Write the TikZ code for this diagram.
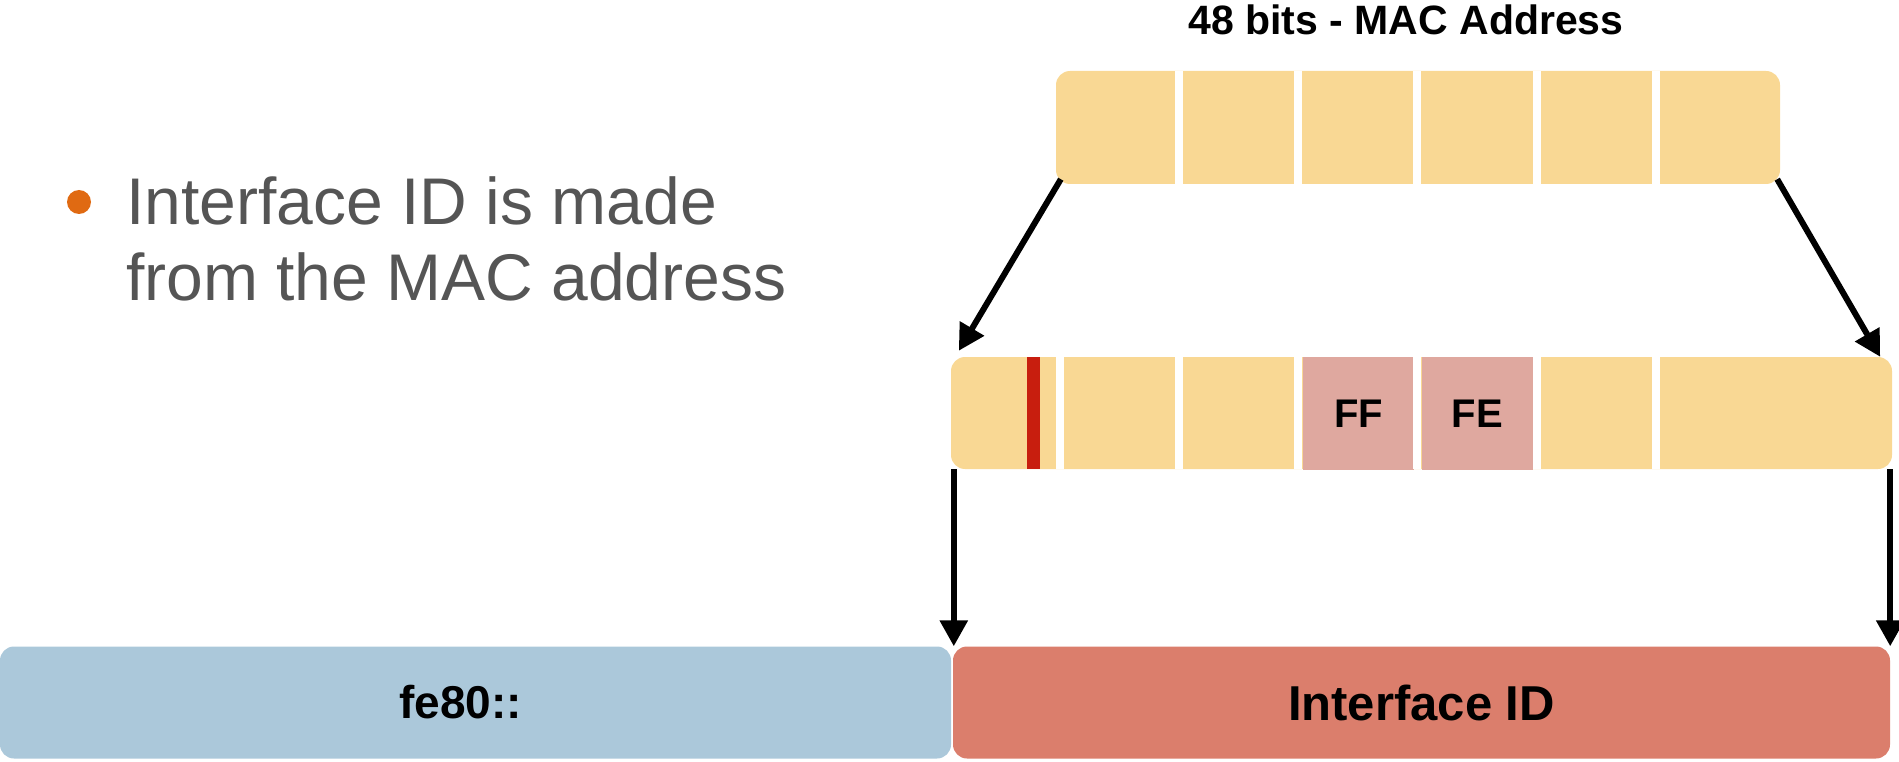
\documentclass[tikz,border=0pt]{standalone}
\usepackage{fontspec}
\setmainfont{Liberation Sans}
\usetikzlibrary{calc}
\usetikzlibrary{arrows.meta}
\definecolor{macyellow}{RGB}{249,216,148}
\definecolor{ffpink}{RGB}{223,168,159}
\definecolor{stripered}{RGB}{200,30,14}
\definecolor{prefixblue}{RGB}{171,200,218}
\definecolor{iidred}{RGB}{219,126,108}
\definecolor{bulletorange}{RGB}{224,106,18}
\definecolor{textgray}{RGB}{85,85,85}

\begin{document}
\begin{tikzpicture}[x=1pt,y=-1pt,
  cell/.style={fill=macyellow,rounded corners=14pt,inner sep=0pt},
  byte/.style={fill=ffpink,inner sep=0pt,minimum width=111pt,minimum height=113pt,font=\fontsize{40}{40}\selectfont\bfseries},
  box/.style={rounded corners=14pt,inner sep=0pt,minimum height=112pt,font=\fontsize{49}{49}\selectfont\bfseries},
  bullet/.style={anchor=base west,inner sep=0pt,text=textgray,font=\fontsize{66}{75}\selectfont},
  conn/.style={line width=6pt,-{Triangle[length=26pt,width=27pt]}}]
  \useasboundingbox (0,0) rectangle (1899,762);
  \node[circle,fill=bulletorange,minimum size=24pt,inner sep=0pt] (dot) at (79,202) {};
  \node[bullet] (line1) at (126,225) {Interface ID is made};
  \node[bullet] (line2) at (126,300) {from the MAC address};
  \node[font=\fontsize{41}{41}\selectfont\bfseries] (title) at (1406,20) {48 bits - MAC Address};
  \node[cell,minimum width=724pt,minimum height=113pt] (mac) at (1418,127.5) {};
  \foreach \i in {1,...,5}
    \fill[white] ($(mac.north west)+(\i*119.2,0)$) rectangle ($(mac.south west)+(\i*119.2+8,0)$);
  \node[cell,minimum width=941pt,minimum height=112pt] (eui) at (1421.5,413) {};
  \node[byte] (ff) at (1358.5,413.5) {FF};
  \node[byte] (fe) at (1477.5,413.5) {FE};
  \foreach \i in {0,...,5}
    \fill[white] ($(mac.west |- eui.north)+(\i*119.2,0)$) rectangle ($(mac.west |- eui.south)+(\i*119.2+8,0)$);
  \fill[stripered] ($(eui.north west)+(76,0)$) rectangle ($(eui.south west)+(89,0)$);
  \node[box,fill=prefixblue,minimum width=951pt,font=\fontsize{46}{46}\selectfont\bfseries] (prefix) at (475.5,702.5) {fe80::\kern30pt};
  \node[box,fill=iidred,minimum width=937pt] (iid) at (1421.5,702.5) {Interface ID};
  \draw[conn] ($(mac.south west)+(5,-5)$) -- ($(eui.north west)+(8,-6)$);
  \draw[conn] ($(mac.south east)+(-3,-5)$) -- ($(eui.north east)+(-12,0)$);
  \draw[conn] ($(eui.south west)+(3,0)$) -- ($(iid.north west)+(1,0)$);
  \draw[conn] ($(eui.south east)+(-2,0)$) -- (iid.north east);
\end{tikzpicture}
\end{document}
